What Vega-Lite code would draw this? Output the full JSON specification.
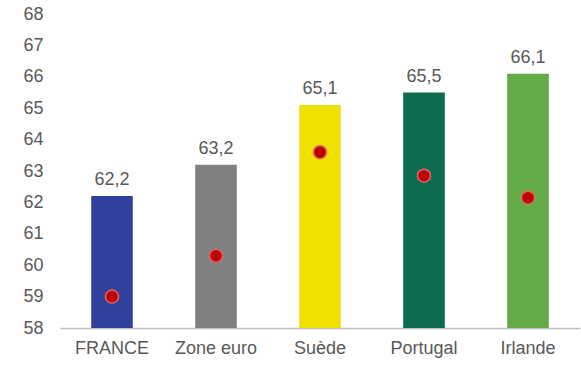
{
  "$schema": "https://vega.github.io/schema/vega-lite/v6.json",
  "width": 520,
  "height": 314,
  "autosize": "none",
  "padding": {"left": 60, "top": 14, "right": 1, "bottom": 39},
  "config": {
    "view": {"stroke": null},
    "font": "Liberation Sans",
    "axisY": {"title": null, "domain": false, "ticks": false, "grid": false, "values": [58,59,60,61,62,63,64,65,66,67,68], "labelOverlap": false, "labelFontSize": 18, "labelColor": "#595959", "labelPadding": 17, "labelFont": "Liberation Sans"},
    "locale": {"number": {"decimal": ",", "thousands": " ", "grouping": [3], "currency": ["", " €"]}}
  },
  "data": {
    "values": [
      {"pays": "FRANCE", "barre": 62.2, "point": 59.0},
      {"pays": "Zone euro", "barre": 63.2, "point": 60.3},
      {"pays": "Suède", "barre": 65.1, "point": 63.6},
      {"pays": "Portugal", "barre": 65.5, "point": 62.85},
      {"pays": "Irlande", "barre": 66.1, "point": 62.15}
    ]
  },
  "encoding": {
    "x": {
      "field": "pays", "type": "nominal", "sort": null,
      "scale": {"paddingInner": 0.6, "paddingOuter": 0.3},
      "axis": {"title": null, "labelAngle": 0, "ticks": false, "domainColor": "#BFBFBF", "domainWidth": 1.5, "labelFontSize": 18, "labelColor": "#595959", "labelPadding": 11, "labelFont": "Liberation Sans", "labelOverlap": false}
    }
  },
  "layer": [
    {
      "mark": {"type": "bar"},
      "encoding": {
        "y": {
          "field": "barre", "type": "quantitative",
          "scale": {"domain": [58, 68], "nice": false, "zero": false},
          "axis": {"values": [58,59,60,61,62,63,64,65,66,67,68], "labelOverlap": false}
        },
        "y2": {"datum": 58},
        "color": {
          "field": "pays", "type": "nominal", "sort": null, "legend": null,
          "scale": {"domain": ["FRANCE", "Zone euro", "Suède", "Portugal", "Irlande"], "range": ["#31409A", "#808080", "#EEE000", "#0E6B50", "#62AB46"]}
        }
      }
    },
    {
      "mark": {"type": "text", "baseline": "alphabetic", "dy": -11, "fontSize": 18, "color": "#595959"},
      "encoding": {
        "y": {"field": "barre", "type": "quantitative", "axis": {"values": [58,59,60,61,62,63,64,65,66,67,68], "labelOverlap": false}},
        "text": {"field": "barre", "type": "quantitative", "format": ".1f"}
      }
    },
    {
      "mark": {"type": "point", "filled": true, "size": 170, "color": "#C00000", "stroke": "#E06666", "strokeWidth": 1.5, "opacity": 1},
      "encoding": {
        "y": {"field": "point", "type": "quantitative", "axis": {"values": [58,59,60,61,62,63,64,65,66,67,68], "labelOverlap": false}}
      }
    }
  ]
}
